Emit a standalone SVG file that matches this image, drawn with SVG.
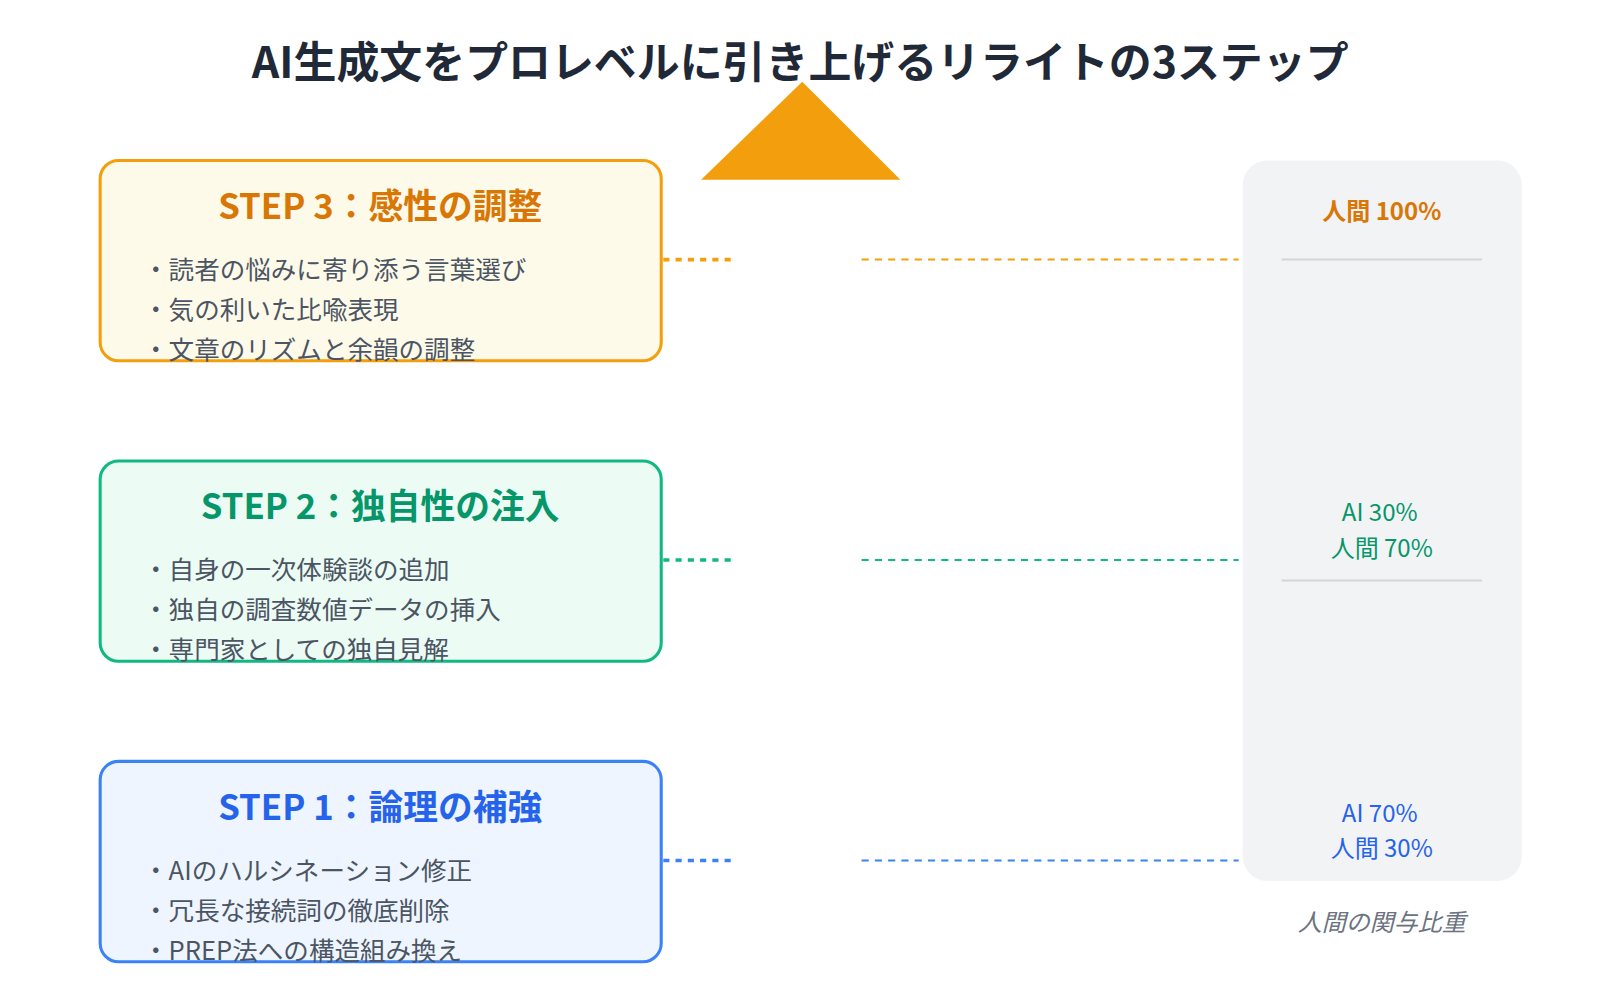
<svg xmlns="http://www.w3.org/2000/svg" width="1600" height="1000" viewBox="0 0 1600 1000">
<style>
text{font-family:"Noto Sans CJK JP","Noto Sans",sans-serif}
.t{font-size:42px;font-weight:700;fill:#1f2937;text-anchor:middle}
.h{font-size:34px;font-weight:700;text-anchor:middle}
.b{font-size:25px;fill:#4b5563}
.p{font-size:23.5px;text-anchor:middle}
.box{stroke-width:3}
.dot{stroke-width:3.5;stroke-dasharray:6 6;fill:none}
.dash{stroke-width:2;stroke-dasharray:7 6;fill:none}
</style>
<rect width="1600" height="1000" fill="#fff"/>
<g transform="scale(1.022)">
<text class="t" x="783" y="76">AI生成文をプロレベルに引き上げるリライトの3ステップ</text>
<polygon points="785,80 686,176 881,176" fill="#f39f0d"/>
<g id="panel">
<rect x="1216" y="157" width="273" height="705" rx="24" fill="#f2f3f5"/>
<line x1="1254" y1="254" x2="1450" y2="254" stroke="#d1d5db" stroke-width="2"/>
<line x1="1254" y1="568" x2="1450" y2="568" stroke="#d1d5db" stroke-width="2"/>
<text class="p" x="1352" y="215" fill="#d97706" font-weight="700" font-size="29">人間 100%</text>
<text class="p" x="1350" y="510" fill="#059669">AI 30%</text>
<text class="p" x="1352" y="545" fill="#059669">人間 70%</text>
<text class="p" x="1350" y="804" fill="#2563eb">AI 70%</text>
<text class="p" x="1352" y="839" fill="#2563eb">人間 30%</text>
<text x="1352" y="911" font-size="23.5" font-style="italic" fill="#6b7280" text-anchor="middle">人間の関与比重</text>
</g>
<g id="connectors">
<line class="dot" x1="649" y1="254" x2="718" y2="254" stroke="#f59e0b"/>
<line class="dash" x1="843" y1="254" x2="1212" y2="254" stroke="#f59e0b"/>
<line class="dot" x1="649" y1="548" x2="718" y2="548" stroke="#10b981"/>
<line class="dash" x1="843" y1="548" x2="1212" y2="548" stroke="#10b981"/>
<line class="dot" x1="649" y1="842" x2="718" y2="842" stroke="#3b82f6"/>
<line class="dash" x1="843" y1="842" x2="1212" y2="842" stroke="#3b82f6"/>
</g>
<g id="step3">
<rect class="box" x="98" y="157" width="549" height="196" rx="18" fill="#fefae9" stroke="#f59e0b"/>
<text class="h" x="372" y="214" fill="#d97706">STEP 3：感性の調整</text>
<text class="b" x="140" y="273">・読者の悩みに寄り添う言葉選び</text>
<text class="b" x="140" y="312">・気の利いた比喩表現</text>
<text class="b" x="140" y="351">・文章のリズムと余韻の調整</text>
</g>
<g id="step2">
<rect class="box" x="98" y="451" width="549" height="196" rx="18" fill="#ecfbf3" stroke="#10b981"/>
<text class="h" x="372" y="508" fill="#059669">STEP 2：独自性の注入</text>
<text class="b" x="140" y="567">・自身の一次体験談の追加</text>
<text class="b" x="140" y="606">・独自の調査数値データの挿入</text>
<text class="b" x="140" y="645">・専門家としての独自見解</text>
</g>
<g id="step1">
<rect class="box" x="98" y="745" width="549" height="196" rx="18" fill="#eef5fe" stroke="#3b82f6"/>
<text class="h" x="372" y="802" fill="#2563eb">STEP 1：論理の補強</text>
<text class="b" x="140" y="861">・AIのハルシネーション修正</text>
<text class="b" x="140" y="900">・冗長な接続詞の徹底削除</text>
<text class="b" x="140" y="939">・PREP法への構造組み換え</text>
</g>
</g>
</svg>
